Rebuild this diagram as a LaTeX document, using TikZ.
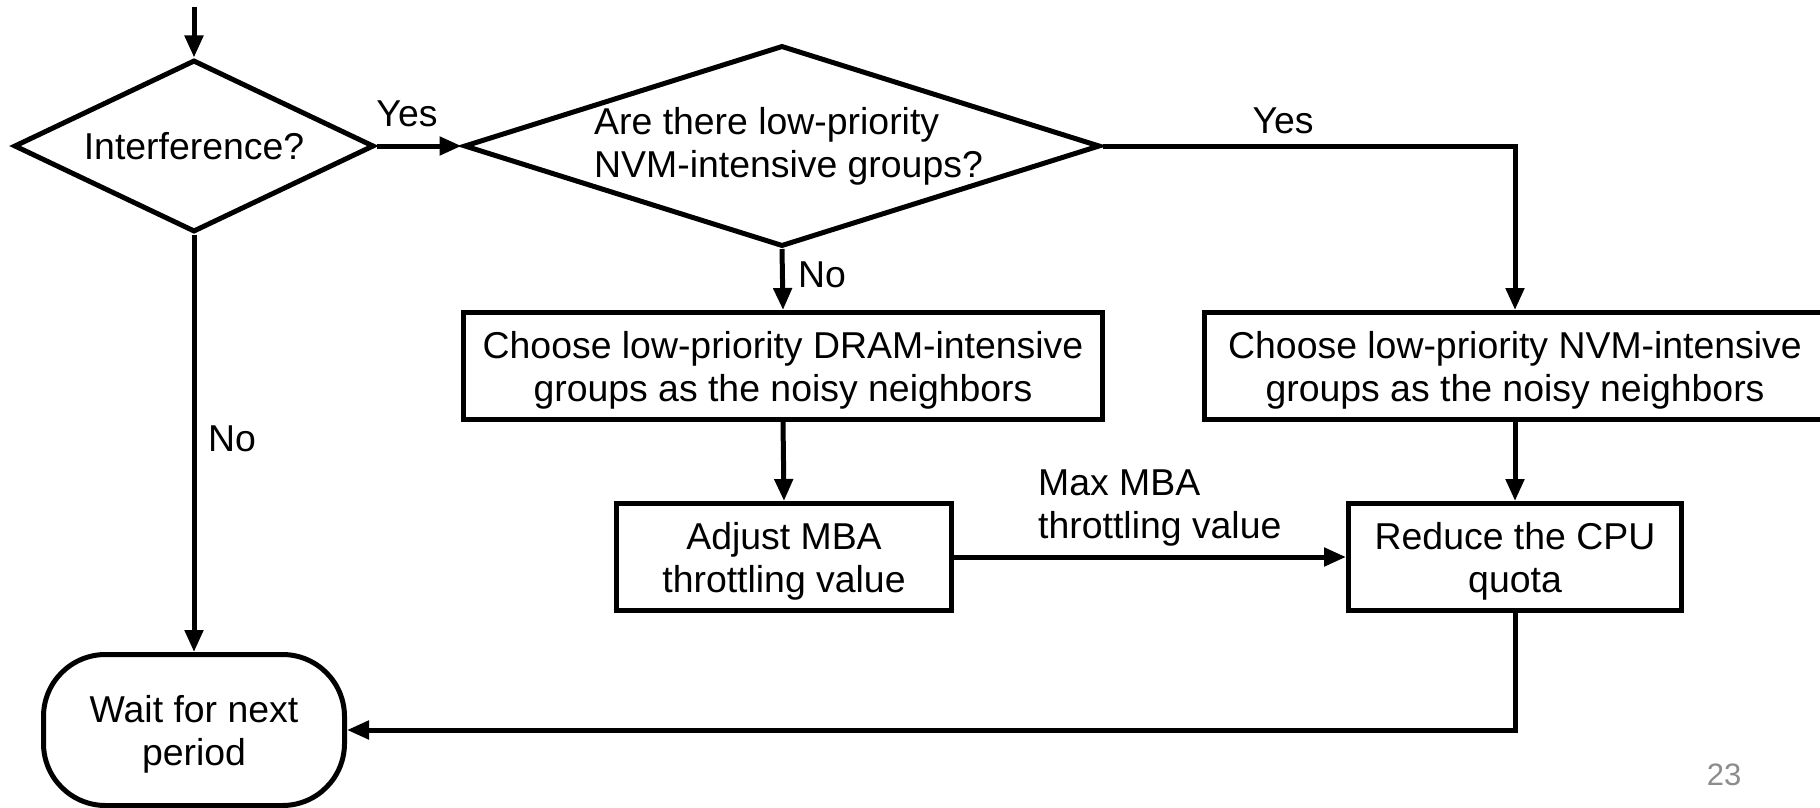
\documentclass[tikz,border=0pt]{standalone}
\usepackage{fontspec}
\setmainfont{Liberation Sans}
\usetikzlibrary{shapes.geometric,arrows.meta}
\begin{document}
\begin{tikzpicture}[x=1pt,y=-1pt,
  every node/.style={font=\fontsize{37.4}{43}\selectfont, text=black},
  arr/.style={line width=5pt, line join=miter, -{Triangle[length=22pt,width=18pt]}},
  dec/.style={diamond, draw, line width=5pt, inner sep=0pt},
  procbox/.style={rectangle, draw, line width=5pt, inner sep=0pt, align=center, text depth=0pt},
  termbox/.style={rectangle, draw, line width=5pt, rounded corners=62pt, inner sep=0pt, align=center, text depth=0pt},
  lbl/.style={inner sep=0pt, align=left}
]
\useasboundingbox (0,0) rectangle (1820,808);

\coordinate (start) at (194,7);
\node[dec, minimum width=360pt, minimum height=172pt] (d1) at (194,146) {};
\node[lbl] (d1t) at (194,146) {Interference?};

\node[dec, minimum width=636pt, minimum height=201pt] (d2) at (782,146) {};
\node[lbl, anchor=west] (d2t) at (594,146) {Are there low-priority\\NVM-intensive groups?};

\node[procbox, minimum width=639pt, minimum height=107pt] (b1) at (783,366) {Choose low-priority DRAM-intensive\\groups as the noisy neighbors};
\node[procbox, minimum width=622pt, minimum height=107pt] (b2) at (1515,366) {Choose low-priority NVM-intensive\\groups as the noisy neighbors};

\node[procbox, minimum width=335pt, minimum height=107pt] (adj) at (784,557) {Adjust MBA\\throttling value};
\node[procbox, minimum width=333pt, minimum height=107pt] (red) at (1515,557) {Reduce the CPU\\quota};

\node[termbox, minimum width=301pt, minimum height=151pt] (wait) at (194,730) {Wait for next\\period};

\draw[arr] (start) -- (d1.north);
\draw[arr] (d1.east) -- (d2.west);
\draw[arr] (d2.east) -| (b2.north);
\draw[arr] (d2.south) -- (b1.north);
\draw[arr] (d1.south) -- (wait.north);
\draw[arr] (b1.south) -- (adj.north);
\draw[arr] (b2.south) -- (red.north);
\draw[arr] (adj.east) -- (red.west);
\draw[arr] (red.south) |- (wait.east);

\node[lbl] (yes1) at (407,114) {Yes};
\node[lbl] (yes2) at (1283,121) {Yes};
\node[lbl] (no1) at (822,275) {No};
\node[lbl] (no2) at (232,439) {No};
\node[lbl, anchor=west] (mba) at (1038,508) {Max MBA\\throttling value};

\node[inner sep=0pt, font=\fontsize{31}{36}\selectfont, text=black!45] (pg) at (1724,775) {23};
\end{tikzpicture}
\end{document}
